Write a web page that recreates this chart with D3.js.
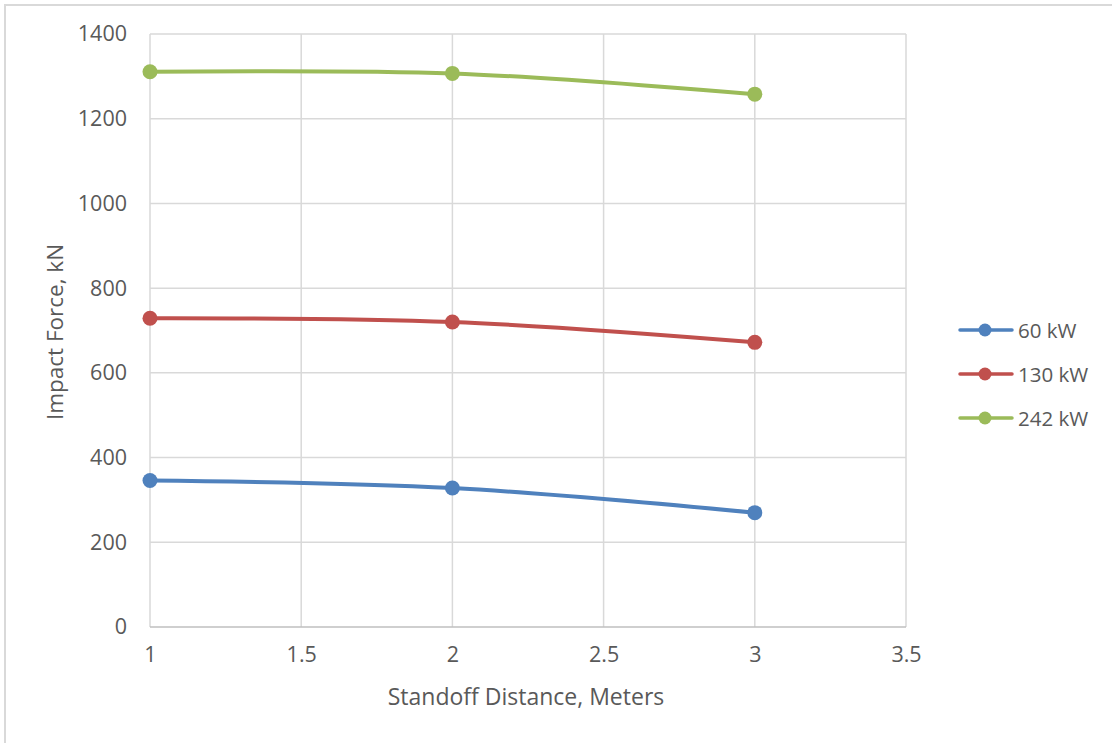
<!DOCTYPE html>
<html>
<head>
<meta charset="utf-8">
<script src="https://cdn.jsdelivr.net/npm/d3@7"></script>
<style>
  html, body { margin: 0; padding: 0; background: #fff; }
  svg { display: block; }
  text { font-family: "Open Sans", "Noto Sans", sans-serif; fill: #595959; }
</style>
</head>
<body>
<svg id="chart" width="1112" height="743"></svg>
<script>
// Standoff distances (m) and impact force (kN) for each charge power
const distances = [1, 2, 3];
const series60 = [346, 328, 270];
const series130 = [729, 720, 672];
const series242 = [1311, 1307, 1258];
const seriesNames = ["60 kW", "130 kW", "242 kW"];
const seriesColors = ["#4F81BD", "#C0504D", "#9BBB59"];
const xTicks = [1, 1.5, 2, 2.5, 3, 3.5];
const yTicks = [0, 200, 400, 600, 800, 1000, 1200, 1400];

const seriesList = [series60, series130, series242].map((vals, i) => ({
  name: seriesNames[i],
  color: seriesColors[i],
  points: distances.map((d, j) => ({ x: d, y: vals[j] }))
}));

const svg = d3.select("#chart");
const margin = { left: 150, right: 206, top: 34, bottom: 116 };
const W = 1112, H = 743;

// Outer chart frame
svg.append("rect")
  .attr("x", 5).attr("y", 5)
  .attr("width", W + 20).attr("height", H + 20)
  .attr("fill", "none").attr("stroke", "#d9d9d9").attr("stroke-width", 2);

const x = d3.scaleLinear().domain([1, 3.5]).range([margin.left, W - margin.right]);
const y = d3.scaleLinear().domain([0, 1400]).range([H - margin.bottom, margin.top]);

// Gridlines
const grid = svg.append("g");
grid.selectAll("line.h").data(yTicks.filter(t => t > 0)).join("line")
  .attr("x1", x(1)).attr("x2", x(3.5))
  .attr("y1", d => y(d)).attr("y2", d => y(d))
  .attr("stroke", "#d9d9d9").attr("stroke-width", 1.5);
grid.selectAll("line.v").data(xTicks).join("line")
  .attr("x1", d => x(d)).attr("x2", d => x(d))
  .attr("y1", y(0)).attr("y2", y(1400))
  .attr("stroke", "#d9d9d9").attr("stroke-width", 1.5);

// Horizontal axis line
svg.append("line")
  .attr("x1", x(1)).attr("x2", x(3.5))
  .attr("y1", y(0)).attr("y2", y(0))
  .attr("stroke", "#bfbfbf").attr("stroke-width", 1.5);

// Axes (labels only)
const yAxis = d3.axisLeft(y).tickValues(yTicks).tickSize(0).tickPadding(23)
  .tickFormat(d3.format("d"));
svg.append("g").attr("transform", `translate(${x(1)},0)`).call(yAxis)
  .call(g => g.select(".domain").remove())
  .selectAll("text").style("font-size", "21.5px").attr("fill", "#595959")
  .style("font-family", '"Open Sans", sans-serif');

const xAxis = d3.axisBottom(x).tickValues(xTicks).tickSize(0).tickPadding(20)
  .tickFormat(d => d3.format("")(d));
svg.append("g").attr("transform", `translate(0,${y(0)})`).call(xAxis)
  .call(g => g.select(".domain").remove())
  .selectAll("text").style("font-size", "21.5px").attr("fill", "#595959")
  .style("font-family", '"Open Sans", sans-serif');

// Axis titles
svg.append("text")
  .attr("x", (x(1) + x(3.5)) / 2 - 2).attr("y", 705)
  .attr("text-anchor", "middle")
  .style("font-size", "23px")
  .text("Standoff Distance, Meters");

svg.append("text")
  .attr("transform", `translate(63,332) rotate(-90)`)
  .attr("text-anchor", "middle")
  .style("font-size", "22.5px")
  .text("Impact Force, kN");

// Smoothed series lines with markers
const line = d3.line().x(d => x(d.x)).y(d => y(d.y)).curve(d3.curveCatmullRom.alpha(0));
const sg = svg.append("g");
seriesList.forEach(s => {
  sg.append("path").datum(s.points)
    .attr("d", line).attr("fill", "none")
    .attr("stroke", s.color).attr("stroke-width", 4)
    .attr("stroke-linecap", "round");
  sg.selectAll(null).data(s.points).join("circle")
    .attr("cx", d => x(d.x)).attr("cy", d => y(d.y)).attr("r", 7.5)
    .attr("fill", s.color);
});

// Legend
const legend = svg.append("g");
seriesList.forEach((s, i) => {
  const ly = 330 + i * 44;
  legend.append("line")
    .attr("x1", 960).attr("x2", 1012).attr("y1", ly).attr("y2", ly)
    .attr("stroke", s.color).attr("stroke-width", 3.5).attr("stroke-linecap", "round");
  legend.append("circle").attr("cx", 985).attr("cy", ly).attr("r", 6.5).attr("fill", s.color);
  legend.append("text").attr("x", 1018).attr("y", ly + 7.5)
    .style("font-size", "20.5px").text(s.name);
});
</script>
</body>
</html>
